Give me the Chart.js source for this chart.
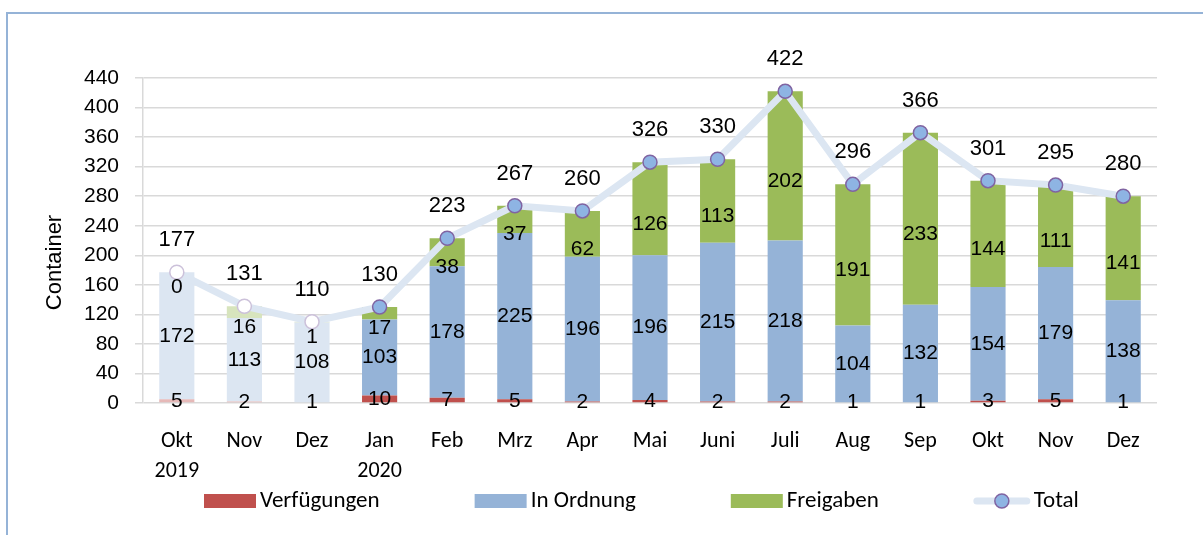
<!DOCTYPE html>
<html>
<head>
<meta charset="utf-8">
<script src="https://cdn.jsdelivr.net/npm/chart.js@4.4.1/dist/chart.umd.min.js"></script>
<style>
  html, body { margin: 0; padding: 0; background: #fff; }
  #wrap { position: relative; width: 1203px; height: 535px; overflow: hidden; }
  #frame { position: absolute; left: 6px; top: 12px; width: 1300px; height: 600px;
           border-left: 2px solid #95b3d7; border-top: 2px solid #95b3d7; }
  canvas { position: absolute; left: 0; top: 0; }
</style>
</head>
<body>
<div id="wrap">
  <div id="frame"></div>
  <canvas id="chart" width="1203" height="535"></canvas>
</div>
<script>
// Monatliche Container-Zahlen
const months = [['Okt', '2019'], 'Nov', 'Dez', ['Jan', '2020'], 'Feb', 'Mrz', 'Apr', 'Mai', 'Juni', 'Juli', 'Aug', 'Sep', 'Okt', 'Nov', 'Dez'];
const verfuegungen = [5, 2, 1, 10, 7, 5, 2, 4, 2, 2, 1, 1, 3, 5, 1];
const inOrdnung = [172, 113, 108, 103, 178, 225, 196, 196, 215, 218, 104, 132, 154, 179, 138];
const freigaben = [0, 16, 1, 17, 38, 37, 62, 126, 113, 202, 191, 233, 144, 111, 141];
const total = [177, 131, 110, 130, 223, 267, 260, 326, 330, 422, 296, 366, 301, 295, 280];
const yTicks = [0, 40, 80, 120, 160, 200, 240, 280, 320, 360, 400, 440];
const yTitle = 'Container';

const FADED = 3; // die ersten drei Monate sind blass dargestellt
const shade = (full, pale) => months.map((m, i) => i < FADED ? pale : full);

const numFont = "'Liberation Sans', Arial, sans-serif";
const txtFont = "Carlito, Lato, 'Liberation Sans', sans-serif";

const labelPlugin = {
  id: 'segLabels',
  afterDatasetsDraw(chart) {
    const ctx = chart.ctx;
    ctx.save();
    ctx.fillStyle = '#000';
    ctx.textAlign = 'center';
    ctx.textBaseline = 'middle';
    chart.data.datasets.forEach((ds, di) => {
      const meta = chart.getDatasetMeta(di);
      meta.data.forEach((el, i) => {
        const v = ds.data[i];
        if (ds.type === 'line') {
          ctx.font = '22px ' + numFont;
          ctx.fillText(v, el.x, el.y - 32);
        } else {
          ctx.font = '21px ' + numFont;
          const mid = (el.y + el.base) / 2;
          ctx.fillText(v, el.x, mid + (ds.labelShift || 0));
        }
      });
    });
    ctx.restore();
  }
};

// Legende wie im Original: Kästchen 52x14, Abstand 95 px zwischen den Einträgen
const legendPlugin = {
  id: 'ownLegend',
  afterDraw(chart) {
    const ctx = chart.ctx;
    const y = 501;
    let x = 204;
    ctx.save();
    ctx.font = '23px ' + txtFont;
    ctx.textBaseline = 'middle';
    chart.data.datasets.forEach(ds => {
      if (ds.type === 'line') {
        ctx.strokeStyle = '#dce6f2';
        ctx.lineWidth = 7;
        ctx.lineCap = 'round';
        ctx.beginPath();
        ctx.moveTo(x + 3, y);
        ctx.lineTo(x + 53, y);
        ctx.stroke();
        ctx.beginPath();
        ctx.arc(x + 28, y, 7, 0, Math.PI * 2);
        ctx.fillStyle = '#8eb4e3';
        ctx.fill();
        ctx.lineWidth = 1.5;
        ctx.strokeStyle = '#8064a2';
        ctx.stroke();
        ctx.fillStyle = '#000';
        ctx.fillText(ds.label, x + 60, y);
      } else {
        ctx.fillStyle = ds.legendColor;
        ctx.fillRect(x, y - 7, 52, 14);
        ctx.fillStyle = '#000';
        ctx.fillText(ds.label, x + 56, y);
        x += 56 + ctx.measureText(ds.label).width + 95;
      }
    });
    // Achsentitel, etwas unterhalb der Mitte wie im Original
    ctx.translate(55, (chart.chartArea.top + chart.chartArea.bottom) / 2 + 22);
    ctx.rotate(-Math.PI / 2);
    ctx.textAlign = 'center';
    ctx.font = '22px ' + numFont;
    ctx.fillText(yTitle, 0, 0);
    ctx.restore();
  }
};

new Chart(document.getElementById('chart'), {
  data: {
    labels: months,
    datasets: [
      {
        type: 'bar', label: 'Verfügungen', data: verfuegungen, order: 1, stack: 's',
        backgroundColor: shade('#c0504d', '#e6b9b8'), legendColor: '#c0504d'
      },
      {
        type: 'bar', label: 'In Ordnung', data: inOrdnung, order: 1, stack: 's',
        backgroundColor: shade('#95b3d7', '#dce6f2'), legendColor: '#95b3d7'
      },
      {
        type: 'bar', label: 'Freigaben', data: freigaben, order: 1, stack: 's',
        backgroundColor: shade('#9bbb59', '#d7e4bd'), legendColor: '#9bbb59',
        labelShift: 15
      },
      {
        type: 'line', label: 'Total', data: total, order: 0,
        borderColor: '#dce6f2', borderWidth: 7,
        pointRadius: 7, pointHoverRadius: 7, pointBorderWidth: 1.5,
        pointBackgroundColor: shade('#8eb4e3', '#ffffff'),
        pointBorderColor: shade('#8064a2', '#ccc1da'),
        tension: 0
      }
    ]
  },
  options: {
    responsive: false,
    animation: false,
    events: [],
    datasets: { bar: { categoryPercentage: 1, barPercentage: 0.52 } },
    layout: { padding: { top: 78, right: 46, bottom: 0, left: 0 } },
    plugins: { legend: { display: false }, tooltip: { enabled: false } },
    scales: {
      x: {
        stacked: true,
        grid: { display: false },
        border: { display: false },
        ticks: { color: '#000', padding: 16, maxRotation: 0, autoSkip: false,
                 font: { family: txtFont, size: 22, lineHeight: 1.36 } },
        afterFit(scale) { scale.height = 132; }
      },
      y: {
        stacked: true,
        min: 0, max: 440,
        afterBuildTicks(scale) { scale.ticks = yTicks.map(v => ({ value: v })); },
        grid: { color: '#d9d9d9', lineWidth: 1.5, tickLength: 8 },
        border: { display: true, color: '#d9d9d9', width: 1.5 },
        ticks: { color: '#000', padding: 16, font: { family: numFont, size: 21 } },
        afterFit(scale) { scale.width = 143; }
      }
    }
  },
  plugins: [labelPlugin, legendPlugin]
});
</script>
</body>
</html>
